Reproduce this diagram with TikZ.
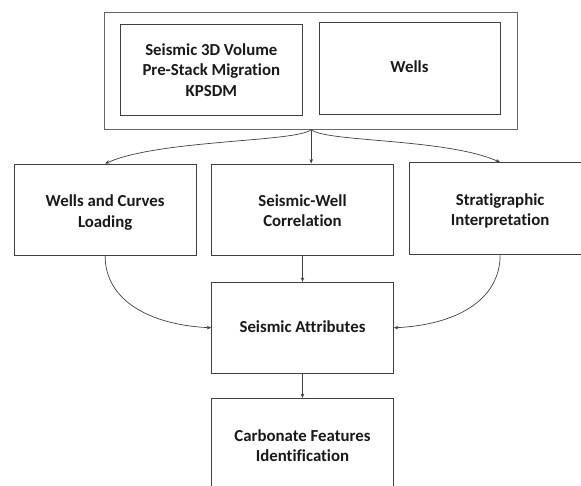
\documentclass[tikz,border=0pt]{standalone}
\usepackage{fontspec}
\setmainfont[Ligatures=CommonOff]{Carlito}
\usetikzlibrary{arrows.meta}
\newcommand{\mltext}[2][3pt]{\raisebox{-#1}[\height][\depth]{\begin{tabular}{@{}c@{}}#2\end{tabular}}}
\tikzset{
  box/.style={draw=black!75, line width=0.8pt, inner sep=0pt,
    font=\bfseries\fontsize{16.8}{20.5}\selectfont, text=black!90},
  outerbox/.style={draw=black!60, line width=0.9pt, inner sep=0pt},
  arr/.style={draw=black!75, line width=0.7pt, -{Stealth[length=4.5pt,width=3.5pt]}},
}
\begin{document}
\begin{tikzpicture}[x=1pt,y=-1pt]
\useasboundingbox (0,0) rectangle (581,485);
\clip (0,0) rectangle (581,485);
\node[outerbox, minimum width=413pt, minimum height=117pt] (outer) at (311.2,70.8) {};
\node[box, minimum width=181.3pt, minimum height=91pt] (seis) at (211.35,69.8) {\mltext[2pt]{Seismic 3D Volume\\Pre-Stack Migration\\KPSDM}};
\node[box, minimum width=181pt, minimum height=91.3pt] (wells) at (409.5,68.35) {\mltext[0pt]{Wells}};
\node[box, minimum width=181.7pt, minimum height=91.7pt] (wcl) at (105.15,209.85) {\mltext{Wells and Curves\\Loading}};
\node[box, minimum width=181.6pt, minimum height=91pt] (swc) at (302.5,209.5) {\mltext{Seismic-Well\\Correlation}};
\node[box, minimum width=181.7pt, minimum height=91.6pt] (strat) at (500.15,208.5) {\mltext{Stratigraphic\\Interpretation}};
\node[box, minimum width=181.6pt, minimum height=91pt] (attr) at (302.5,327.8) {\mltext[0.5pt]{Seismic Attributes}};
\node[box, minimum width=181.6pt, minimum height=91pt] (carb) at (302.5,444) {\mltext[3.5pt]{Carbonate Features\\Identification}};
\draw[arr] (outer.south) .. controls +(-16,12.5) and +(54,-24) .. (wcl.north);
\draw[arr] (outer.south) -- (outer.south |- swc.north);
\draw[arr] (outer.south) .. controls +(16,12.5) and +(-54,-24) .. (strat.north);
\draw[arr] (wcl.south) .. controls +(0,44) and +(-62,-3) .. (attr.west);
\draw[arr] (strat.south) .. controls +(0,46) and +(62,-3) .. (attr.east);
\draw[arr] (swc.south) -- (attr.north);
\draw[arr] (attr.south) -- (carb.north);
\end{tikzpicture}
\end{document}
